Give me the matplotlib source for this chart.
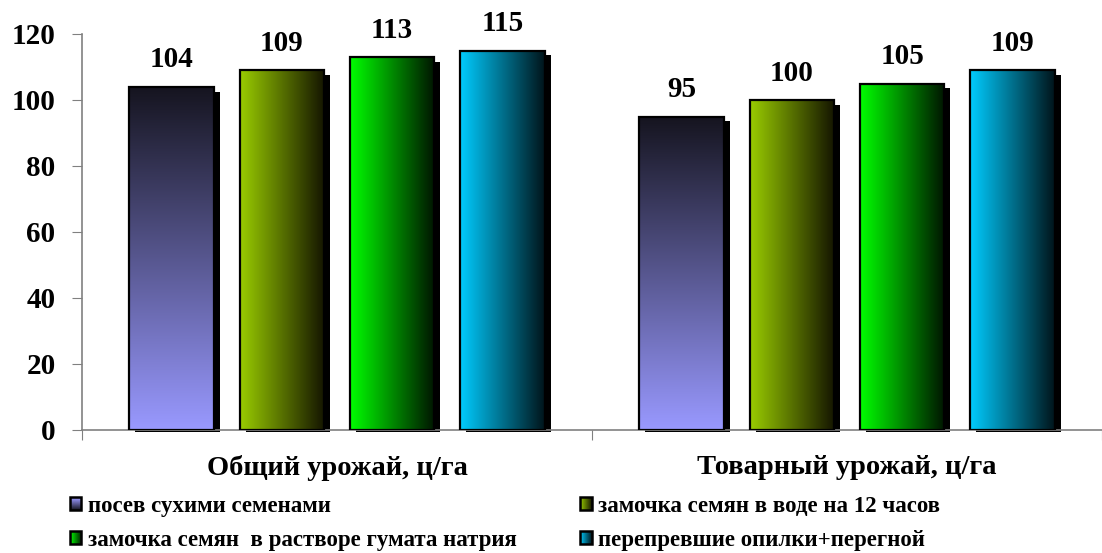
import matplotlib
matplotlib.use("Agg")
import matplotlib.pyplot as plt
import numpy as np
from matplotlib.patches import Rectangle, Patch
from matplotlib.colors import LinearSegmentedColormap, to_rgb
from matplotlib.legend_handler import HandlerBase
import matplotlib.transforms as mtransforms

plt.rcParams['font.family'] = ['Liberation Serif', 'DejaVu Serif']

categories = ["Общий урожай, ц/га", "Товарный урожай, ц/га"]
series_names = ["посев сухими семенами",
                "замочка семян в воде на 12 часов",
                "замочка семян  в растворе гумата натрия",
                "перепревшие опилки+перегной"]
series_values = [[104, 95], [109, 100], [113, 105], [115, 109]]
yticks = [0, 20, 40, 60, 80, 100, 120]

# gradient (start, end, direction)
grad = [("#9999ff", "#15141f", "v"),
        ("#99cc00", "#141400", "h"),
        ("#00ff00", "#001400", "h"),
        ("#00ccff", "#00141a", "h")]

fig = plt.figure(figsize=(11.02, 5.53), dpi=100)
ax = fig.add_axes([82/1102, 123/553, (1102-82)/1102, 396/553])

group_x = np.arange(len(categories))
bw = 0.166
offsets = [-0.3246, -0.108, 0.108, 0.3246]
dpi = fig.dpi
shadow_tr = ax.transData + mtransforms.ScaledTranslation(6/dpi, 0, fig.dpi_scale_trans)

for s, (vals, (c0, c1, d)) in enumerate(zip(series_values, grad)):
    cmap = LinearSegmentedColormap.from_list(f"g{s}", [c0, c1])
    for g, v in zip(group_x, vals):
        x0 = g + offsets[s] - bw/2
        sh = Rectangle((x0, -0.7), bw, v - 1.5 + 0.7, facecolor='black', edgecolor='none',
                       transform=shadow_tr, zorder=2, clip_on=False)
        ax.add_patch(sh)
        rect = Rectangle((x0, 0), bw, v, facecolor='none', edgecolor='black',
                         linewidth=1.6, zorder=4)
        ax.add_patch(rect)
        if d == "v":
            arr = np.linspace(0, 1, 256).reshape(-1, 1)
        else:
            arr = np.linspace(0, 1, 256).reshape(1, -1)
        img = ax.imshow(arr, cmap=cmap, aspect='auto',
                        extent=[x0, x0+bw, 0, v], origin='lower', zorder=3)
        img.set_clip_path(rect)
        ax.annotate(str(v), (g + offsets[s], v), xytext=(0, 14),
                    textcoords='offset points', ha='center', va='baseline',
                    fontsize=21, fontweight='bold', zorder=5)

ax.set_xlim(-0.5, 1.5 - 6/513)
ax.set_ylim(0, 120)
ax.set_yticks(yticks)
ax.set_yticklabels([str(t) for t in yticks], fontsize=21, fontweight='bold')
ax.set_xticks([-0.5, 0.5, 1.5])
ax.set_xticklabels([])
ax.set_xticks(group_x, minor=True)
ax.set_xticklabels(categories, minor=True, fontsize=20.5, fontweight='bold')
ax.tick_params(axis='x', which='minor', length=0, pad=18)
ax.tick_params(axis='x', which='major', length=7, color='#808080', direction='out')
ax.tick_params(axis='y', length=7, color='#808080', direction='out', pad=12)
for sp in ['top', 'right']:
    ax.spines[sp].set_visible(False)
for sp in ['left', 'bottom']:
    ax.spines[sp].set_color('#808080')
    ax.spines[sp].set_linewidth(1.2)
ax.spines['bottom'].set_zorder(3.5)


class GradHandler(HandlerBase):
    def __init__(self, c0, c1, d):
        super().__init__()
        self.c0, self.c1, self.d = np.array(to_rgb(c0)), np.array(to_rgb(c1)), d

    def create_artists(self, legend, orig_handle, xdescent, ydescent, width,
                       height, fontsize, trans):
        n = 12
        arts = []
        for i in range(n):
            t = (i + 0.5) / n
            col = self.c0 * (1 - t) + self.c1 * t
            if self.d == 'v':
                r = Rectangle((-xdescent, -ydescent + height * (1 - (i + 1) / n)),
                              width, height / n, facecolor=col, edgecolor='none',
                              transform=trans)
            else:
                r = Rectangle((-xdescent + width * i / n, -ydescent), width / n,
                              height, facecolor=col, edgecolor='none', transform=trans)
            arts.append(r)
        arts.append(Rectangle((-xdescent, -ydescent), width, height, facecolor='none',
                              edgecolor='black', linewidth=1.8, transform=trans))
        return arts


handles = [Patch(facecolor=c0) for (c0, c1, d) in grad]
hmap = {h: GradHandler(c0, c1, d) for h, (c0, c1, d) in zip(handles, grad)}
order = [0, 2, 1, 3]
leg = fig.legend([handles[i] for i in order], [series_names[i] for i in order],
                 handler_map=hmap, loc='upper left', ncol=2,
                 bbox_to_anchor=(54/1102, 1 - 480/553), frameon=False,
                 prop={'size': 16.5, 'weight': 'bold'},
                 handlelength=0.5, handleheight=0.5, handletextpad=0.3,
                 columnspacing=2.75, labelspacing=0.55, borderpad=0.2)

fig.savefig("out.png", dpi=100)
